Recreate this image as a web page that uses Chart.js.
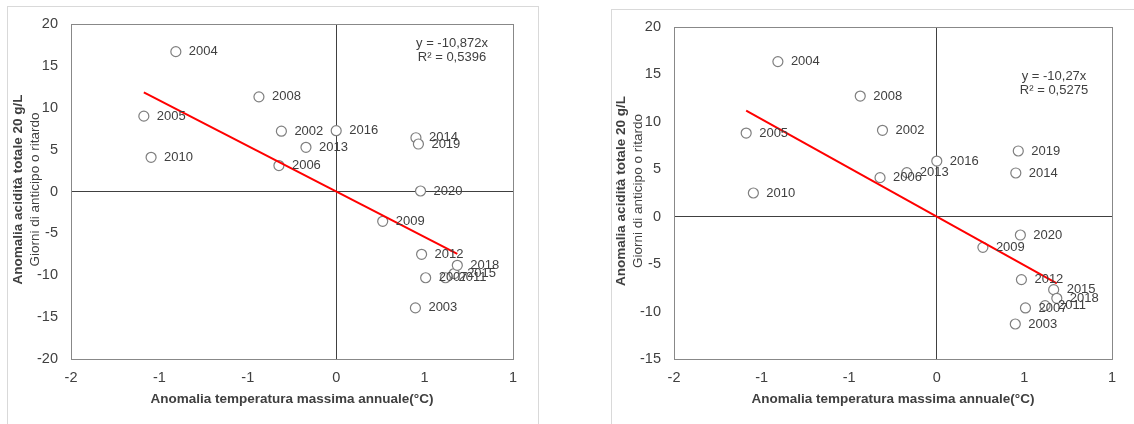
<!DOCTYPE html>
<html><head><meta charset="utf-8">
<script src="https://cdn.jsdelivr.net/npm/chart.js@4.4.1/dist/chart.umd.min.js"></script>
<style>
html,body{margin:0;padding:0;background:#fff;width:1134px;height:424px;overflow:hidden;position:relative}
.card{position:absolute;border:1px solid #d9d9d9;background:#fff}
canvas{position:absolute;top:0}
</style></head><body>
<div class="card" style="left:7px;top:6px;width:530px;height:430px"></div>
<div class="card" style="left:611px;top:9px;width:540px;height:430px"></div>
<canvas id="c1" width="560" height="424" style="left:0"></canvas>
<canvas id="c2" width="574" height="424" style="left:560px"></canvas>
<script>
// ---- data ----
const years = [2002,2003,2004,2005,2006,2007,2008,2009,2010,2011,2012,2013,2014,2015,2016,2018,2019,2020];
const tempAnomaly = [-0.31,0.448,-0.907,-1.088,-0.324,0.506,-0.437,0.263,-1.047,0.618,0.483,-0.171,0.451,0.667,0.0,0.685,0.465,0.477];
const leftValues  = [7.2,-13.9,16.7,9.0,3.1,-10.3,11.3,-3.56,4.08,-10.3,-7.5,5.28,6.42,-9.8,7.26,-8.81,5.67,0.06];
const rightValues = [9.11,-11.31,16.35,8.82,4.12,-9.62,12.72,-3.23,2.50,-9.37,-6.63,4.65,4.61,-7.69,5.87,-8.60,6.93,-1.93];
const leftSlope = -10.872, leftR2 = '0,5396';
const rightSlope = -10.27, rightR2 = '0,5275';
const xTicks = [-1.5,-1,-0.5,0,0.5,1];
const leftYTicks = [-20,-15,-10,-5,0,5,10,15,20];
const rightYTicks = [-15,-10,-5,0,5,10,15,20];
const xTitle = 'Anomalia temperatura massima annuale(°C)';
const yTitle1 = 'Anomalia acidità totale 20 g/L';
const yTitle2 = 'Giorni di anticipo o ritardo';

const FONT = "'Liberation Sans', Arial, sans-serif";
function excelRound(v){ const r = Math.sign(v)*Math.round(Math.abs(v)); return String(r === 0 ? 0 : r); }

const deco = {
  id:'deco',
  beforeDatasetsDraw(chart){
    const {ctx, chartArea:a} = chart;
    ctx.save(); ctx.strokeStyle='#888'; ctx.lineWidth=1;
    ctx.strokeRect(Math.round(a.left)+0.5, Math.round(a.top)+0.5, Math.round(a.right-a.left), Math.round(a.bottom-a.top));
    ctx.restore();
  },
  afterDatasetsDraw(chart, args, o){
    const {ctx, chartArea:a} = chart;
    ctx.save();
    ctx.fillStyle='#404040';
    ctx.font='13px '+FONT; ctx.textAlign='left'; ctx.textBaseline='middle';
    const meta = chart.getDatasetMeta(1);
    meta.data.forEach((pt,i)=>ctx.fillText(String(years[i]), pt.x+13, pt.y));
    // equation
    ctx.textAlign='center';
    ctx.fillText(o.eq1, a.right+o.eqDx, a.top+o.eqDy);
    ctx.fillText(o.eq2, a.right+o.eqDx, a.top+o.eqDy+14);
    // x title
    ctx.font='bold 13.5px '+FONT;
    ctx.fillText(xTitle, (a.left+a.right)/2, a.bottom+40);
    // y titles
    const cy=(a.top+a.bottom)/2 - 2;
    ctx.save(); ctx.translate(a.left-53, cy); ctx.rotate(-Math.PI/2);
    ctx.fillText(yTitle1, 0, 0); ctx.restore();
    ctx.save(); ctx.translate(a.left-36, cy); ctx.rotate(-Math.PI/2);
    ctx.font='13.5px '+FONT; ctx.fillText(yTitle2, 0, 0); ctx.restore();
    ctx.restore();
  }
};

function makeChart(id, values, slope, r2, yTicks, yAxisWidth, pad, eqDx, eqDy){
  const pts = tempAnomaly.map((x,i)=>({x, y:values[i]}));
  const minX = Math.min(...tempAnomaly), maxX = Math.max(...tempAnomaly);
  const trend = [{x:minX, y:slope*minX},{x:maxX, y:slope*maxX}];
  const zeroGrid = c => (c.tick && c.tick.value === 0) ? '#404040' : 'rgba(0,0,0,0)';
  return new Chart(document.getElementById(id), {
    type:'scatter',
    data:{datasets:[
      {type:'line', data:trend, borderColor:'#ff0000', borderWidth:2, pointRadius:0, fill:false, order:0},
      {data:pts, pointRadius:5, pointBorderColor:'#7f7f7f', pointBackgroundColor:'#ffffff', pointBorderWidth:1.2, order:1}
    ]},
    options:{
      responsive:false, animation:false, devicePixelRatio:1,
      layout:{padding:pad},
      plugins:{legend:{display:false}, tooltip:{enabled:false},
        deco:{eq1:'y = '+String(slope).replace('.',',')+'x', eq2:'R² = '+r2, eqDx, eqDy}},
      scales:{
        x:{type:'linear', min:xTicks[0], max:xTicks[xTicks.length-1],
           afterBuildTicks:s=>{s.ticks = xTicks.map(v=>({value:v}));},
           afterFit:s=>{s.height=65;},
           grid:{color:zeroGrid, drawTicks:false, lineWidth:1}, border:{display:false},
           ticks:{callback:v=>excelRound(v), padding:10, color:'#404040', font:{family:FONT, size:14.5}, maxRotation:0}},
        y:{type:'linear', min:yTicks[0], max:yTicks[yTicks.length-1],
           afterBuildTicks:s=>{s.ticks = yTicks.map(v=>({value:v}));},
           afterFit:s=>{s.width=yAxisWidth;},
           grid:{color:zeroGrid, drawTicks:false, lineWidth:1}, border:{display:false},
           ticks:{callback:v=>String(v), padding:13, color:'#404040', font:{family:FONT, size:14.5}}}
      }
    },
    plugins:[deco]
  });
}
makeChart('c1', leftValues, leftSlope, leftR2, leftYTicks, 71, {left:0,right:47,top:24,bottom:0}, -61, 19);
makeChart('c2', rightValues, rightSlope, rightR2, rightYTicks, 114, {left:0,right:22,top:27,bottom:0}, -58, 49);
</script>
</body></html>
